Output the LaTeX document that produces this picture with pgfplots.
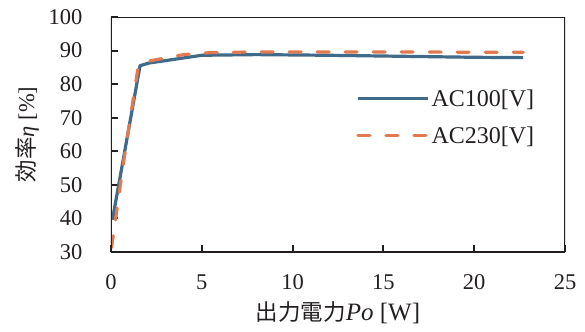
\documentclass[border=0pt]{standalone}
\usepackage{fontspec}
\setmainfont{Liberation Serif}
\newfontfamily\cjk{Noto Sans CJK JP}
\usepackage{pgfplots}
\pgfplotsset{compat=1.18}
\definecolor{cblue}{RGB}{64,106,138}
\definecolor{corange}{RGB}{226,122,80}
\definecolor{caxis}{RGB}{35,31,32}
\pgfplotstableread{
x y
0.08 39.6
1.6 85.5
2.1 86.3
5.0 88.6
8.0 88.8
12.0 88.6
16.0 88.3
20.0 88.0
22.7 87.9
}\acone
\pgfplotstableread{
x y
0.03 31.3
0.7 57.0
1.5 85.3
2.2 87.0
4.0 88.8
5.5 89.4
8.0 89.6
12.0 89.6
16.0 89.6
20.0 89.5
22.7 89.5
}\actwo
\begin{document}
\begin{tikzpicture}
\begin{axis}[
  at={(0,0)}, anchor=south west,
  scale only axis, width=454bp, height=235bp,
  xmin=0, xmax=25, ymin=30, ymax=100,
  xtick={0,5,...,25}, ytick={30,40,...,100},
  tick pos=left, tick align=inside,
  major tick length=7bp,
  axis line style={draw=none},
  every tick/.style={caxis, line width=2bp},
  /pgf/number format/assume math mode=true,
  tick label style={font=\fontsize{22.5bp}{27bp}\selectfont, text=caxis},
  yticklabel style={xshift=-25bp},
  xticklabel style={yshift=-19.5bp},
  label style={text=caxis},
  xlabel={{\cjk\fontsize{22.5bp}{27bp}\selectfont 出力電力}\textit{Po} [W]},
  ylabel={{\cjk 効率}\textit{η} [\%]},
  xlabel style={font=\fontsize{25bp}{30bp}\selectfont, at={(axis description cs:0.5,0)}, anchor=base, yshift=-68bp},
  ylabel style={font=\fontsize{22.5bp}{27bp}\selectfont, at={(axis description cs:-0.185,0.5)}, anchor=center},
  legend style={at={(0.54,0.574)}, anchor=west, draw=none, fill=none,
    inner sep=0pt, row sep=15bp, font=\fontsize{24bp}{28bp}\selectfont,
    nodes={inner sep=2bp, text=caxis}},
  legend cell align=left,
  legend image code/.code={\draw[#1] (0bp,0bp) -- (70bp,0bp);},
]
\addplot[cblue, line width=3.2bp, line join=round] table {\acone};
\addlegendentry{AC100[V]}
\addplot[corange, line width=3.2bp, line cap=round, dash pattern=on 12bp off 16bp] table {\actwo};
\addlegendentry{AC230[V]}
\draw[caxis, line width=2.4bp] (rel axis cs:0,0) rectangle (rel axis cs:1,1);
\end{axis}
\pgfresetboundingbox
\path[use as bounding box] (-111bp,-80bp) rectangle (474bp,252bp);
\end{tikzpicture}
\end{document}
